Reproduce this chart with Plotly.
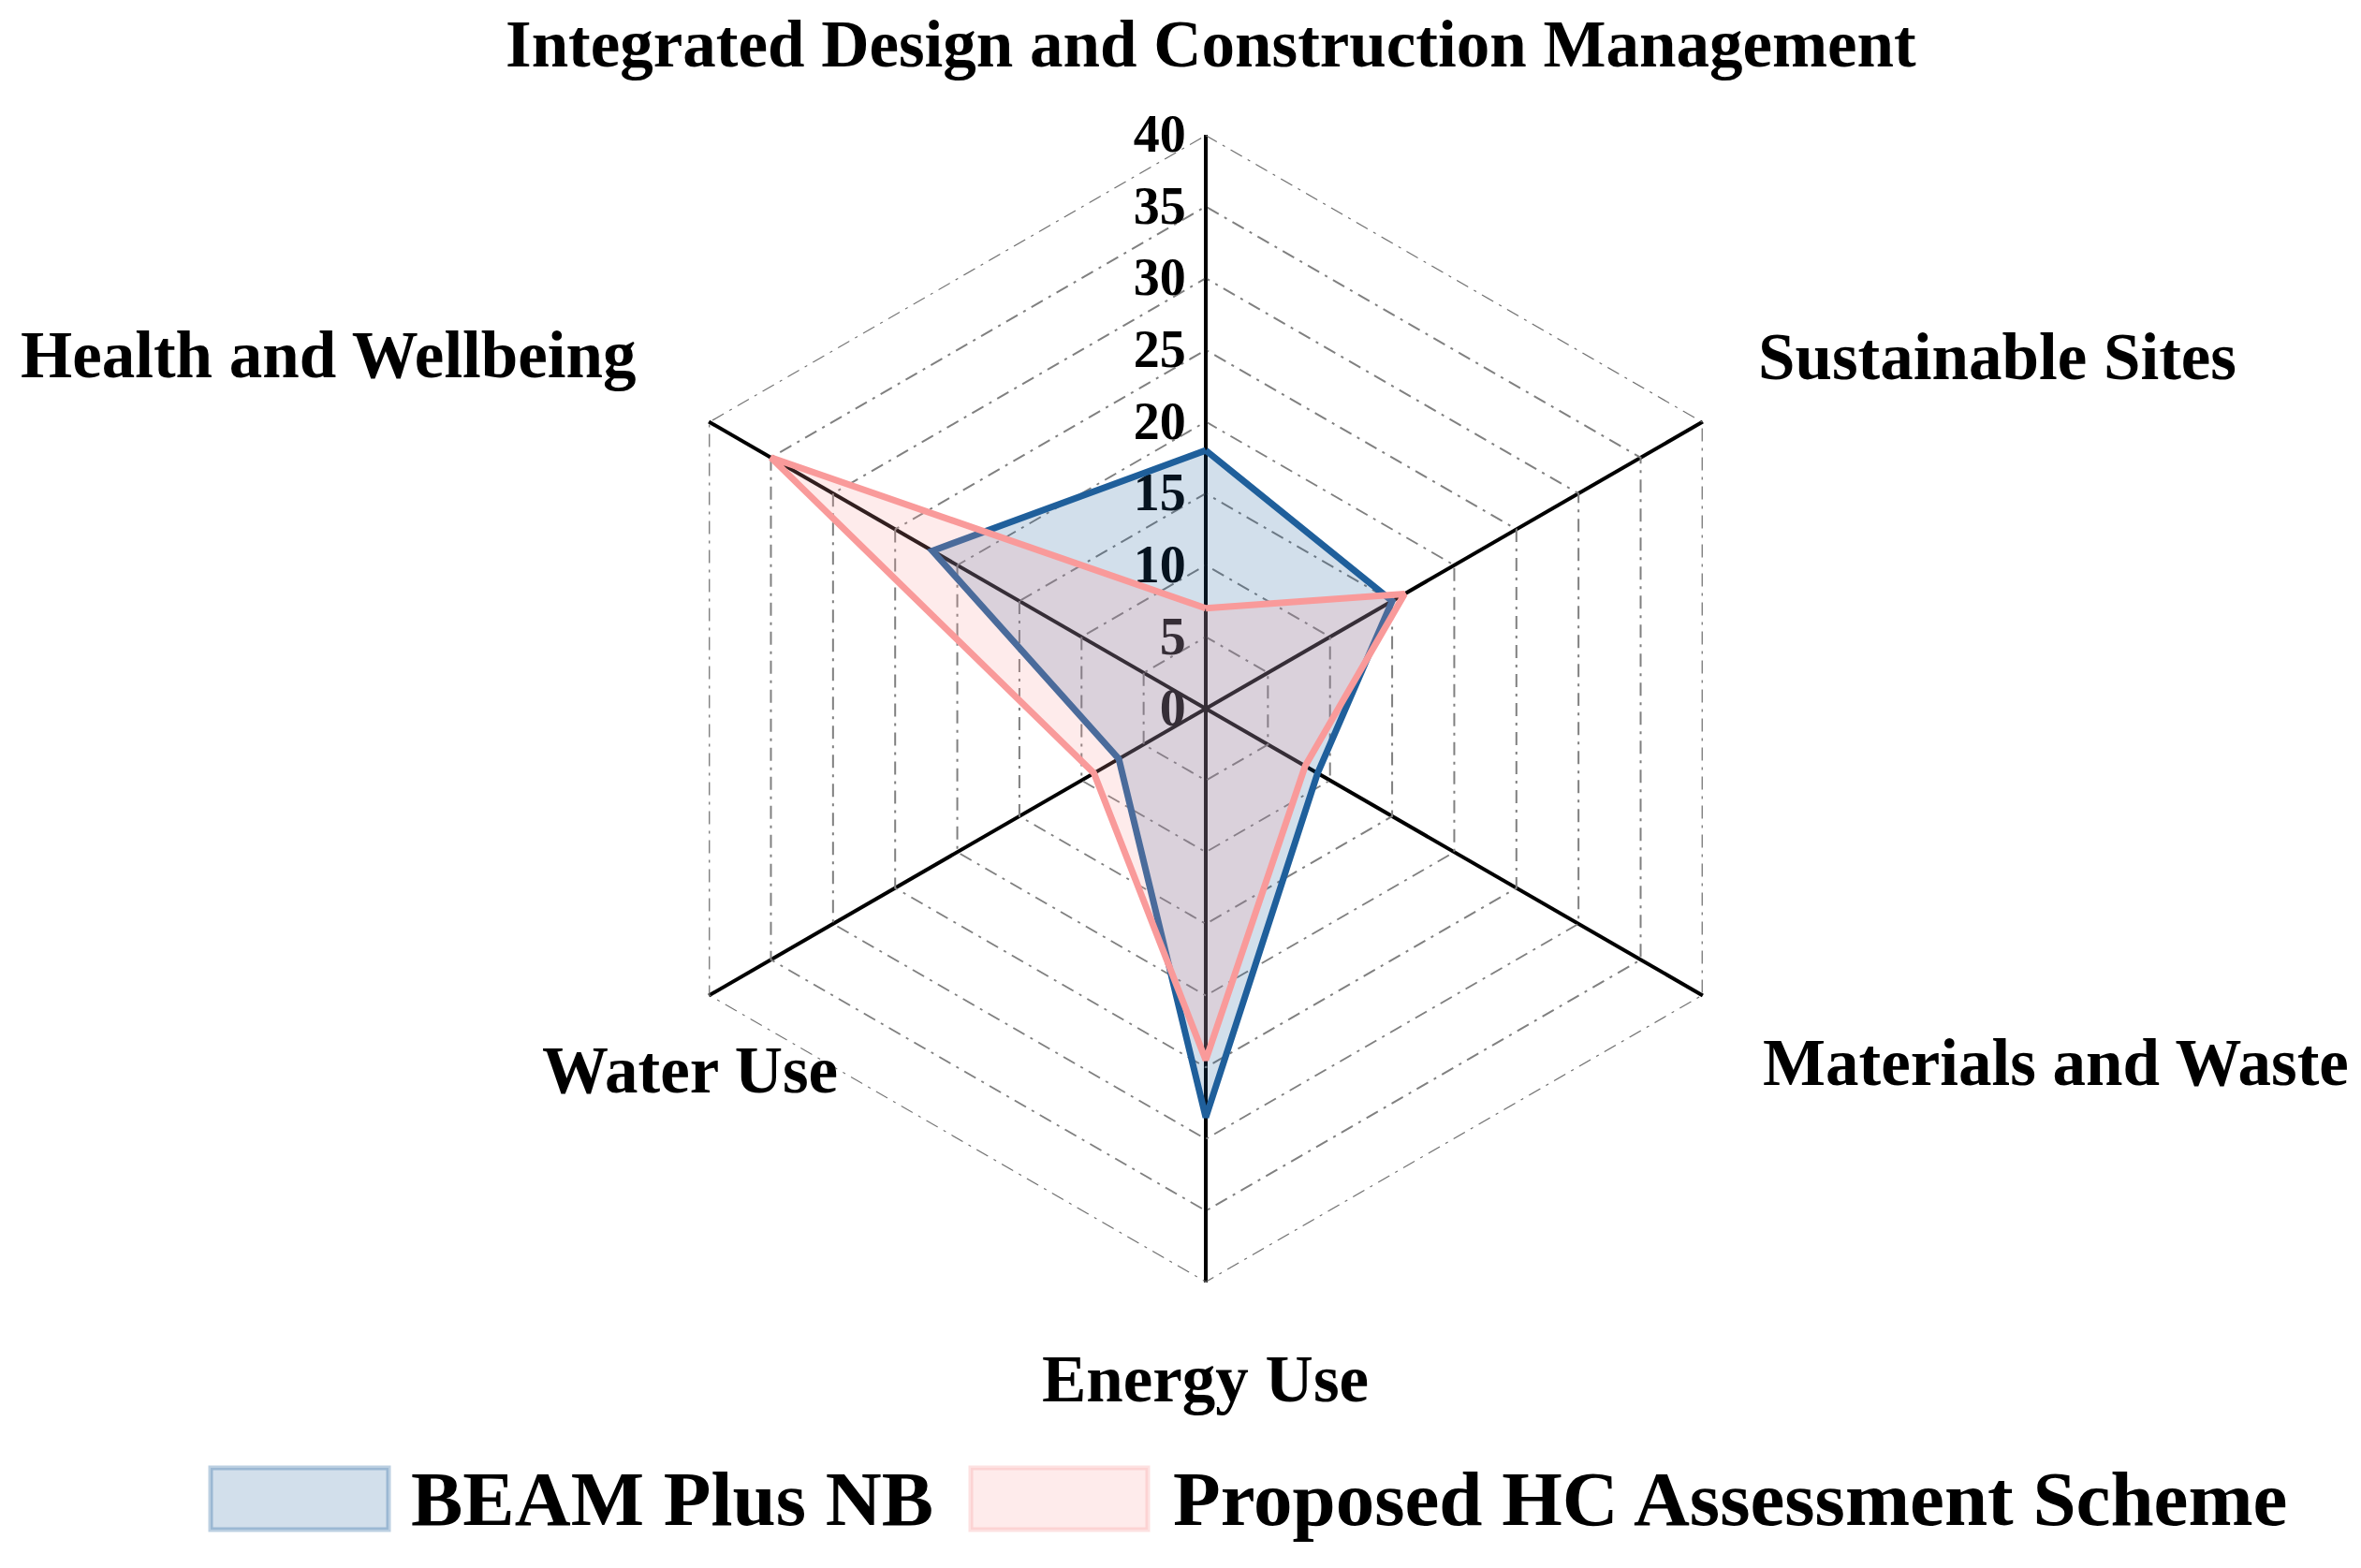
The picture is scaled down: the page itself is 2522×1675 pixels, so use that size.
"""Radar chart - BEAM Plus NB vs proposed HC assessment scheme."""
import plotly.graph_objects as go

W, H = 2522, 1675

categories = ["Integrated Design and Construction Management", "Sustainable Sites",
              "Materials and Waste", "Energy Use", "Water Use", "Health and Wellbeing"]
beam_plus = [18, 15, 9, 28.5, 7, 22]
proposed_hc = [7, 16, 8, 24.5, 9, 35]
series_names = ["BEAM Plus NB", "Proposed HC Assessment Scheme"]
radial_ticks = [0, 5, 10, 15, 20, 25, 30, 35, 40]

line_colors = ["#1F5F9B", "#F99A9A"]
fill_colors = ["rgba(31,95,155,0.2)", "rgba(249,154,154,0.2)"]
box_lines = ["rgba(31,95,155,0.3)", "rgba(249,154,154,0.3)"]

FONT = "Liberation Serif"
GRID_DASH = '14px,7px,3px,7px'

fig = go.Figure()
# outer ring at the top tick, plotly leaves this grid line out
fig.add_trace(go.Scatterpolar(r=[radial_ticks[-1]] * (len(categories) + 1),
    theta=categories + categories[:1], mode='lines', hoverinfo='skip', showlegend=False,
    cliponaxis=False, line=dict(color='#707070', width=2.5, dash=GRID_DASH)))
for name, vals, lc, fc in zip(series_names, [beam_plus, proposed_hc], line_colors, fill_colors):
    fig.add_trace(go.Scatterpolar(r=vals + vals[:1], theta=categories + categories[:1],
        mode='lines', fill='toself', fillcolor=fc, name=name,
        line=dict(color=lc, width=7), showlegend=False))

# centre and radius of the polar area, in pixels
cx, cy, R = 1280, 749, 613
fig.update_layout(
    width=W, height=H, paper_bgcolor='white', plot_bgcolor='white',
    margin=dict(l=0, r=0, t=0, b=0),
    font=dict(family=FONT, color='black'),
    polar=dict(
        domain=dict(x=[(cx - R) / W, (cx + R) / W], y=[1 - (cy + R) / H, 1 - (cy - R) / H]),
        bgcolor='white', gridshape='linear',
        radialaxis=dict(range=[0, 40], tickvals=radial_ticks, angle=90, tickangle=90,
            side='counterclockwise', showline=True, linecolor='black', linewidth=3.5,
            gridcolor='#808080', gridwidth=2, griddash=GRID_DASH, ticks='',
            tickfont=dict(size=56, family=FONT, color='black', weight='bold'),
            layer='below traces'),
        angularaxis=dict(rotation=90, direction='clockwise', showticklabels=False, ticks='',
            showline=False, gridcolor='black', gridwidth=3.5, layer='below traces'),
    ),
)

# category labels placed around the chart
label_pos = [(1285, 39), (2125, 373), (2188, 1127), (1279, 1465), (729, 1135), (343, 371)]
for text, (px, py) in zip(categories, label_pos):
    fig.add_annotation(x=px / W, y=1 - py / H, xref='paper', yref='paper', text=text,
        showarrow=False, xanchor='center', yanchor='middle',
        font=dict(size=71, family=FONT, color='black', weight='bold'))

# legend drawn by hand to get the large boxes
boxes = [(217, 407, 429), (1029, 1218, 1243)]
for (x0, x1, tx), name, fc, bl in zip(boxes, series_names, fill_colors, box_lines):
    fig.add_shape(type='rect', xref='paper', yref='paper', x0=x0 / W, x1=x1 / W,
        y0=1 - 1626 / H, y1=1 - 1560 / H, fillcolor=fc, line=dict(color=bl, width=5))
    fig.add_annotation(x=tx / W, y=1 - 1593 / H, xref='paper', yref='paper', text=name,
        showarrow=False, xanchor='left', yanchor='middle',
        font=dict(size=83, family=FONT, color='black', weight='bold'))

fig.write_html("out.html")
